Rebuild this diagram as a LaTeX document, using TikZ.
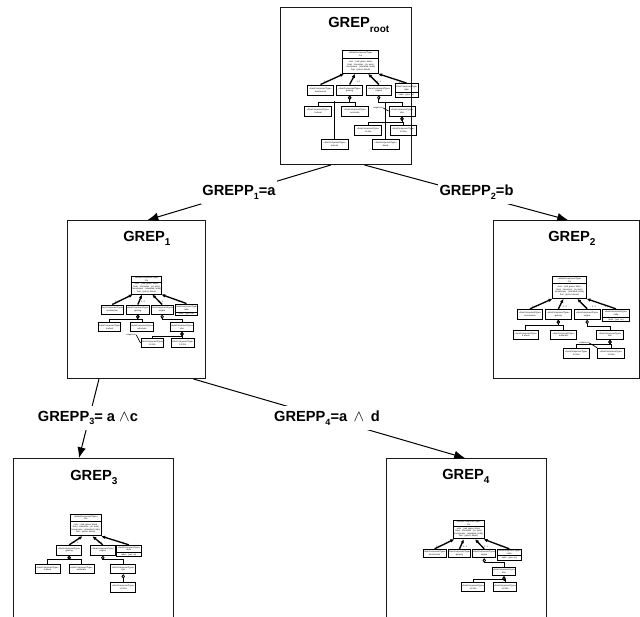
\documentclass[tikz,border=0pt]{standalone}
\usepackage{fontspec}
\setmainfont{Liberation Sans}
\usetikzlibrary{arrows.meta,calc}
\tikzset{
  bigbox/.style={draw=black!90,line width=0.75pt,inner sep=0pt,fill=white},
  title/.style={anchor=base west,inner sep=0pt,font=\bfseries\fontsize{11}{13}\selectfont},
  guard/.style={fill=white,inner sep=1pt,minimum height=18pt,font=\bfseries\fontsize{11}{13}\selectfont},
  link/.style={draw=black,line width=0.75pt,-{Latex[length=8pt,width=6.5pt]}},
  minibox/.style={draw=black,line width=0.7pt,inner sep=0pt,align=center,font=\fontsize{1.6}{1.9}\selectfont},
  minitext/.style={inner sep=0pt,align=center,font=\fontsize{1.6}{1.9}\selectfont},
  comp/.style={draw=black,line width=1pt,{Latex[length=3pt,width=2.6pt]}-},
  tree/.style={draw=black,line width=0.75pt,{Diamond[open,length=3.4pt,width=2.6pt,line width=0.6pt]}-},
  plain/.style={draw=black,line width=0.75pt},
  req/.style={draw=black,line width=0.5pt},
}
\newcommand{\mb}[6]{\node[minibox,minimum width={(#4-#2)*0.75pt},minimum height={(#5-#3)*0.75pt}] (#1) at ({(#2+#4)/2},{(#3+#5)/2}) {#6};}
\newcommand{\ms}[8]{%
  \node[minibox,minimum width={(#4-#2)*0.75pt},minimum height={(#6-#3)*0.75pt}] (#1) at ({(#2+#4)/2},{(#3+#6)/2}) {};
  \draw[line width=0.7pt] (#2,#5) -- (#4,#5);
  \node[minitext] (#1t) at ({(#2+#4)/2},{(#3+#5)/2}) {#7};
  \node[minitext] (#1b) at ({(#2+#4)/2},{(#5+#6)/2}) {#8};}
\newcommand{\fan}[3]{\draw[comp] ($(#1.south west)!#2!(#1.south east)$) -- (#3.north);}
\newcommand{\ml}[3]{\node[minitext] (#1) at (#2,#3) {1..1};}
\newcommand{\stereo}{«ItemComponentType»}
\newcommand{\attrs}{color : (red, green, black,\\blue) , transmiss : (m, auto)\\horsepower : (standard, turbo)\\fuel : (petrol, diesel)}
\newcommand{\sbt}[1]{\raisebox{-3.6pt}{\fontsize{7.5}{9}\selectfont #1}}
\newcommand{\sbg}[1]{\raisebox{-2.8pt}{\fontsize{6.8}{9}\selectfont #1}}
\newcommand{\wdg}{{\fontsize{13}{13}\selectfont$\wedge$}}
\begin{document}
\begin{tikzpicture}[x=0.75pt,y=-0.75pt]
\useasboundingbox (0,0) rectangle (640,617);
\clip (0,0) rectangle (640,617);
% big boxes
\node[bigbox,minimum width=98.25pt,minimum height=117.75pt] (R) at (346,86) {};
\node[bigbox,minimum width=103.5pt,minimum height=118.5pt] (G1) at (136.5,299.5) {};
\node[bigbox,minimum width=109.5pt,minimum height=118.5pt] (G2) at (566.5,299.5) {};
\node[bigbox,minimum width=120pt,minimum height=126pt] (G3) at (93.5,542.5) {};
\node[bigbox,minimum width=120pt,minimum height=126pt] (G4) at (466.5,542.5) {};
% titles
\node[title] (tr) at (328,28) {GREP\sbt{root}};
\node[title] (t1) at (123,241) {GREP\sbt{1}};
\node[title] (t2) at (548,241) {GREP\sbt{2}};
\node[title] (t3) at (70,480) {GREP\sbt{3}};
\node[title] (t4) at (442,479) {GREP\sbt{4}};
% connectors
\draw[link] ($(R.south west)!0.385!(R.south east)$) -- ($(G1.north west)!0.58!(G1.north east)$);
\draw[link] ($(R.south west)!0.64!(R.south east)$) -- ($(G2.north west)!0.51!(G2.north east)$);
\draw[link] ($(G1.south west)!0.23!(G1.south east)$) -- ($(G3.north west)!0.41!(G3.north east)$);
\draw[link] ($(G1.south west)!0.91!(G1.south east)$) -- ($(G4.north west)!0.49!(G4.north east)$);
\node[guard] (p1) at (239,192.5) {GREPP\sbg{1}=a};
\node[guard] (p2) at (476.5,192.5) {GREPP\sbg{2}=b};
\node[guard] (p3) at (88,418) {GREPP\sbg{3}= a \wdg c};
\node[guard] (p4) at (327,418) {GREPP\sbg{4}=a \,\wdg\ \,d};
% ---------- root mini diagram
\ms{ra}{342.7}{50.7}{378.7}{58.3}{73.3}{«ModelComponentType»\\Car}{\attrs}
\mb{rb}{307.7}{85}{333.3}{95}{\stereo\\accessories}
\mb{rc}{336.7}{85}{362.7}{95}{\stereo\\gearing}
\mb{rd}{366}{85}{391.7}{95}{\stereo\\engine}
\ms{re}{395}{83.5}{418}{92.7}{97}{\stereo\\radio}{radio : (yes, no)}
\mb{rf}{304.3}{106}{331.7}{116}{\stereo\\4 wheel}
\mb{rg}{341.7}{106}{368.3}{116}{\stereo\\automatic}
\mb{rh}{389}{106}{415}{116}{\stereo\\size}
\mb{ri}{354.3}{125}{381.7}{135}{\stereo\\1.6 litre}
\mb{rj}{390}{125}{416.7}{135}{\stereo\\1.8 litre}
\mb{rk}{321}{139.3}{348.3}{149.3}{\stereo\\manual}
\mb{rl}{372.3}{139.3}{399}{149.3}{\stereo\\diesel}
\fan{ra}{0.05}{rb}\fan{ra}{0.35}{rc}\fan{ra}{0.7}{rd}\fan{ra}{0.97}{re}
\ml{r1}{325.7}{81.7}\ml{r2}{358.3}{81.7}\ml{r3}{379}{81.7}\ml{r4}{400.7}{82.7}
\draw[tree] (rc.south) -- ++(0,6.7) -| (rf.north);
\draw[tree] (rc.south) -- ++(0,6.7) -| (rg.north);
\draw[plain] (rk.north) -- ++(0,-37.6);
\draw[tree] (rd.south) -- ++(0,7) -| (rh.north);
\draw[plain] (rl.north) -- ++(0,-37);
\draw[tree] (rh.south) -- ++(0,6.3) -| (ri.north);
\draw[tree] (rh.south) -- ++(0,6.3) -| (rj.north);
\node[minitext,fill=white] (rq) at (378,108) {«requires»};
\draw[req] (rq.east) -- (rh.west);
% ---------- GREP1 mini diagram
\ms{aa}{131.7}{276}{161.7}{282.3}{294}{«ModelComponentType»\\Car}{\attrs}
\mb{ab}{101}{305}{123.3}{314}{\stereo\\accessories}
\mb{ac}{126.7}{305}{149}{314}{\stereo\\gearing}
\mb{ad}{151}{305}{173.3}{314}{\stereo\\engine}
\ms{ae}{175.7}{304}{197.3}{312}{315.7}{\stereo\\radio}{radio : (yes, no)}
\mb{af}{98.3}{322.7}{120.7}{331.3}{\stereo\\4 wheel}
\mb{ag}{130.7}{322.7}{153.3}{331.3}{\stereo\\automatic}
\mb{ah}{170.7}{322.7}{193.3}{331.3}{\stereo\\size}
\mb{ai}{141}{338.7}{163.3}{347.3}{\stereo\\1.6 litre}
\mb{aj}{171}{338.7}{194}{347.3}{\stereo\\1.8 litre}
\fan{aa}{0.05}{ab}\fan{aa}{0.35}{ac}\fan{aa}{0.68}{ad}\fan{aa}{0.97}{ae}
\ml{a1}{117}{302}\ml{a2}{143}{302}\ml{a3}{161}{302}\ml{a4}{180}{302}
\draw[tree] (ac.south) -- ++(0,5) -| (af.north);
\draw[tree] (ac.south) -- ++(0,5) -| (ag.north);
\draw[tree] (ad.south) -- ++(0,5) -| (ah.north);
\draw[tree] (ah.south) -- ++(0,5) -| (ai.north);
\draw[tree] (ah.south) -- ++(0,5) -| (aj.north);
\node[minitext,fill=white] (aq) at (131,335) {«requires»};
\draw[req] (aq.east) -- (ai.west);
% ---------- GREP2 mini diagram
\ms{ba}{552.3}{276.7}{586.7}{283.3}{298.3}{«ModelComponentType»\\Car}{\attrs}
\mb{bb}{517.3}{309.3}{542.7}{319.3}{\stereo\\accessories}
\mb{bc}{545.7}{309.3}{571}{319.3}{\stereo\\gearing}
\mb{bd}{574.3}{309.3}{600}{319.3}{\stereo\\engine}
\ms{be}{602.7}{309.3}{629.3}{317.7}{321.7}{\stereo\\radio}{radio : (yes, no)}
\mb{bf}{513.3}{330}{538.3}{339.3}{\stereo\\4 wheel}
\mb{bg}{550.7}{330}{576.7}{339.3}{\stereo\\automatic}
\mb{bh}{596.7}{330}{623.3}{339.3}{\stereo\\size}
\mb{bi}{563.3}{348.3}{589.3}{358.3}{\stereo\\1.6 litre}
\mb{bj}{597.7}{348.3}{624.3}{358.3}{\stereo\\1.8 litre}
\fan{ba}{0.02}{bb}\fan{ba}{0.33}{bc}\fan{ba}{0.72}{bd}\fan{ba}{0.98}{be}
\ml{b1}{534}{306.5}\ml{b2}{565}{306.5}\ml{b3}{594}{306.5}\ml{b4}{607}{307}
\draw[tree] (bc.south) -- ++(0,6) -| (bf.north);
\draw[tree] (bc.south) -- ++(0,6) -| (bg.north);
\draw[tree] (bd.south) -- ++(0,7) -| (bh.north);
\draw[tree] (bh.south) -- ++(0,5) -| (bi.north);
\draw[tree] (bh.south) -- ++(0,5) -| (bj.north);
\node[minitext,fill=white] (bq) at (584,343) {«requires»};
\draw[req] (bq.east) -- (bj.north west);
% ---------- GREP3 mini diagram
\ms{ca}{70}{514.3}{101.7}{521}{535.7}{«ModelComponentType»\\Car}{\attrs}
\mb{cc}{56.7}{545.3}{81.7}{555}{\stereo\\gearing}
\mb{cd}{90.3}{545.3}{115.3}{555}{\stereo\\engine}
\ms{ce}{116.7}{545.3}{141}{552.5}{556.7}{\stereo\\radio}{radio : (yes, no)}
\mb{cf}{35}{564}{60}{573.7}{\stereo\\4 wheel}
\mb{cg}{69}{564}{94}{573.7}{\stereo\\automatic}
\mb{ch}{110.7}{564}{135.7}{573.7}{\stereo\\size}
\mb{ci}{110.7}{582.3}{135.7}{592}{\stereo\\1.8 litre}
\fan{ca}{0.4}{cc}\fan{ca}{0.7}{cd}\fan{ca}{0.97}{ce}
\ml{c2}{76}{543}\ml{c3}{100}{543}\ml{c4}{122}{543}
\draw[tree] (cc.south) -- ++(0,4.5) -| (cf.north);
\draw[tree] (cc.south) -- ++(0,4.5) -| (cg.north);
\draw[tree] (cd.south) -- ++(0,4.5) -| (ch.north);
\draw[tree] (ch.south) -- (ci.north);
% ---------- GREP4 mini diagram
\ms{da}{453.3}{520}{484}{526}{538.7}{«ModelComponentType»\\Car}{\attrs}
\mb{db}{423.3}{549.3}{446}{557.7}{\stereo\\accessories}
\mb{dc}{448.3}{549.3}{470.7}{557.7}{\stereo\\gearing}
\mb{dd}{472.7}{549.3}{495.7}{557.7}{\stereo\\engine}
\ms{de}{497.7}{549.3}{521}{555.7}{560}{\stereo\\radio}{radio : (yes, no)}
\mb{df}{492.3}{567.3}{515.7}{575.7}{\stereo\\size}
\mb{dg}{462.7}{582.7}{483.3}{591.7}{\stereo\\1.6 litre}
\mb{dh}{493.3}{582.7}{516.7}{591.7}{\stereo\\1.8 litre}
\fan{da}{0.05}{db}\fan{da}{0.35}{dc}\fan{da}{0.7}{dd}\fan{da}{0.97}{de}
\ml{d1}{438}{546.5}\ml{d2}{465}{546.5}\ml{d3}{486}{546.5}\ml{d4}{502}{546.5}
\draw[tree] (dd.south) -- ++(0,4.5) -| (df.north);
\draw[tree] (df.south) -- ++(0,3.5) -| (dg.north);
\draw[tree] (df.south) -- ++(0,3.5) -| (dh.north);
\end{tikzpicture}
\end{document}
